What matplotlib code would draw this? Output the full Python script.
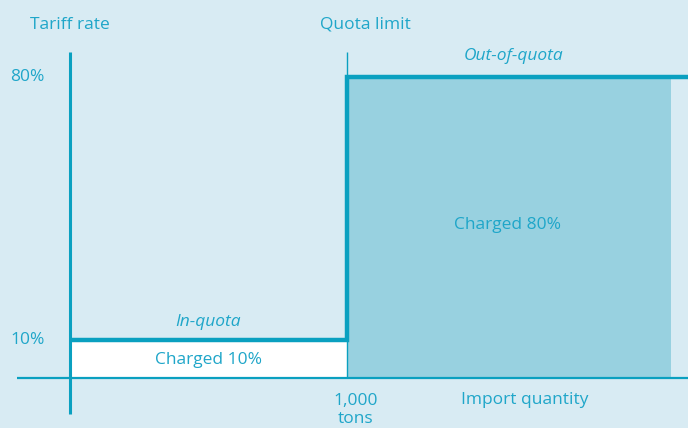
import matplotlib.pyplot as plt

# data
quota_tons = 1000
in_quota_rate = 10
out_quota_rate = 80
fill_end = 2170          # extent of the shaded out-of-quota area
rate_ticks = [10, 80]
rate_labels = ['10%', '80%']

bg = '#d8ebf3'
line_c = '#0aa0c0'
fill_c = '#98d1e0'
text_c = '#1fa6c9'

plt.rcParams['font.family'] = ['Open Sans', 'DejaVu Sans']

fig = plt.figure(figsize=(6.88, 4.28), dpi=100, facecolor=bg)
ax = fig.add_axes([0, 0, 1, 1])
ax.set_facecolor(bg)
ax.set_xlim(-253, 2231)
ax.set_ylim(-13.3, 100.4)
ax.axis('off')

# shaded areas
ax.fill_between([0, quota_tons], 0, in_quota_rate, color='white', lw=0)
ax.fill_between([quota_tons, fill_end], 0, out_quota_rate, color=fill_c, lw=0)

# axes lines
ax.plot([0, 0], [-9.5, 86.6], color=line_c, lw=2.2, solid_capstyle='butt')
ax.plot([-190, 2231], [0, 0], color=line_c, lw=1.6, solid_capstyle='butt')
ax.plot([quota_tons, quota_tons], [0, 86.6], color=line_c, lw=1.0, solid_capstyle='butt')

# tariff step
ax.plot([0, quota_tons, quota_tons, 2231],
        [in_quota_rate, in_quota_rate, out_quota_rate, out_quota_rate],
        color=line_c, lw=3.2, solid_joinstyle='miter', solid_capstyle='butt')

fs = 12.5
for r, lab in zip(rate_ticks, rate_labels):
    ax.text(-92, r, lab, ha='right', va='center', color=text_c, fontsize=fs)

ax.text(-145, 93.8, 'Tariff rate', ha='left', va='center', color=text_c, fontsize=fs)
ax.text(quota_tons + 65, 93.8, 'Quota limit', ha='center', va='center', color=text_c, fontsize=fs)
ax.text(1600, 85.4, 'Out-of-quota', ha='center', va='center', color=text_c,
        fontsize=fs, style='italic')
ax.text(500, 14.8, 'In-quota', ha='center', va='center', color=text_c,
        fontsize=fs, style='italic')
ax.text(500, 4.8, 'Charged 10%', ha='center', va='center', color=text_c, fontsize=fs)
ax.text(1580, 40.6, 'Charged 80%', ha='center', va='center', color=text_c, fontsize=fs)
ax.text(quota_tons + 30, -8.5, '1,000\ntons', ha='center', va='center', color=text_c,
        fontsize=fs, linespacing=1.15)
ax.text(1640, -5.8, 'Import quantity', ha='center', va='center', color=text_c, fontsize=fs)

fig.savefig('out.png', dpi=100, facecolor=bg)
